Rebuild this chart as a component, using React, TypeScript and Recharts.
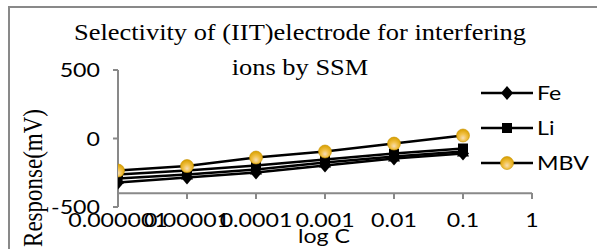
import React from 'react';
import { LineChart, Line, XAxis, YAxis, ReferenceLine, Legend } from 'recharts';

const concentrations = [0.000001, 0.00001, 0.0001, 0.001, 0.01, 0.1];
const feValues = [-321, -285, -248, -197, -146, -110];
const ion4Values = [-292, -263, -226, -175, -131, -95];
const liValues = [-263, -234, -197, -153, -110, -73];
const mbvValues = [-234, -201, -139, -95, -37, 22];

const xTicks = [0.000001, 0.00001, 0.0001, 0.001, 0.01, 0.1, 1];
const xTickLabels = ['0.000001', '0.00001', '0.0001', '0.001', '0.01', '0.1', '1'];
const yTicks = [-500, 0, 500];
const axisCross = -400;

const titleLines = ['Selectivity of (IIT)electrode for interfering', 'ions by SSM'];
const xTitle = 'log C';
const yTitle = 'Response(mV)';

const data = concentrations.map((c, i) => ({
  conc: c,
  Fe: feValues[i],
  ion4: ion4Values[i],
  Li: liValues[i],
  MBV: mbvValues[i],
}));

const AXIS = '#898989';
const SANS = 'Lato, "Open Sans", sans-serif';
const SERIF = '"Liberation Serif", "Times New Roman", serif';
const SX = 1.22;
const FS = 19;

const Diamond = ({ cx, cy }: any) => (
  <polygon points={`${cx},${cy - 7} ${cx + 6},${cy} ${cx},${cy + 7} ${cx - 6},${cy}`} fill="#000" />
);
const Square = ({ cx, cy }: any) => <rect x={cx - 5} y={cy - 5} width={10} height={10} fill="#000" />;
const Triangle = ({ cx, cy }: any) => (
  <polygon points={`${cx},${cy - 7} ${cx + 6},${cy + 5} ${cx - 6},${cy + 5}`} fill="#000" />
);
const GoldCircle = ({ cx, cy }: any) => (
  <circle cx={cx} cy={cy} r={6.5} fill="url(#mbvGrad)" stroke="#C89200" strokeWidth={0.6} />
);

const shapeFor: Record<string, any> = { Fe: Diamond, Li: Square, ion4: Triangle, MBV: GoldCircle };

const makeDot = (key: string) => (p: any) => {
  const S = shapeFor[key];
  if (p.cx == null || p.cy == null) return <g key={`${key}-${p.index}`} />;
  return (
    <g key={`${key}-${p.index}`}>
      <S cx={p.cx} cy={p.cy} />
    </g>
  );
};

const XTick = (props: any) => {
  const { x, y, payload } = props;
  const idx = xTicks.indexOf(payload.value);
  const label = idx >= 0 ? xTickLabels[idx] : String(payload.value);
  return (
    <g>
      <line x1={x} x2={x} y1={y - 14} y2={y - 8} stroke={AXIS} strokeWidth={2} />
      <text transform={`translate(${x},${y + 20}) scale(${SX},1)`} textAnchor="middle" fontFamily={SANS} fontSize={FS} fill="#000">
        {label}
      </text>
    </g>
  );
};

const YTick = (props: any) => {
  const { x, y, payload } = props;
  return (
    <text transform={`translate(${x},${y + 7}) scale(${SX},1)`} textAnchor="end" fontFamily={SANS} fontSize={FS} fill="#000">
      {String(payload.value)}
    </text>
  );
};

const renderLegend = (props: any) => {
  const payload = (props.payload || []).filter((e: any) => e.type !== 'none');
  const order = ['Fe', 'Li', 'MBV'];
  const items = order.filter((n) => payload.some((e: any) => e.value === n));
  return (
    <svg width={119} height={100} style={{ overflow: 'visible' }}>
      {items.map((name, i) => {
        const cy = 17 + i * 35;
        const S = shapeFor[name];
        return (
          <g key={name}>
            <line x1={3} x2={55} y1={cy} y2={cy} stroke="#000" strokeWidth={2.5} />
            <S cx={29} cy={cy} />
            <text transform={`translate(59,${cy + 7}) scale(${SX},1)`} fontFamily={SANS} fontSize={FS} fill="#000">
              {name}
            </text>
          </g>
        );
      })}
    </svg>
  );
};

export default function App() {
  return (
    <div style={{ position: 'absolute', left: 0, top: 0, width: 597, height: 249, overflow: 'hidden', background: '#fff' }}>
      <svg width={0} height={0} style={{ position: 'absolute' }}>
        <defs>
          <radialGradient id="mbvGrad" cx="50%" cy="62%" r="60%" fx="50%" fy="70%">
            <stop offset="0%" stopColor="#F6DDB8" />
            <stop offset="45%" stopColor="#F2C24A" />
            <stop offset="100%" stopColor="#D9A000" />
          </radialGradient>
        </defs>
      </svg>
      <div
        style={{
          position: 'absolute',
          left: 8,
          top: 6,
          width: 600,
          height: 260,
          borderLeft: `2px solid ${AXIS}`,
          borderTop: `2px solid ${AXIS}`,
          boxSizing: 'border-box',
        }}
      />
      <div style={{ position: 'absolute', left: 0, top: 0 }}>
        <LineChart width={597} height={249} data={data} margin={{ top: 70, right: 65, bottom: 41, left: 0 }}>
          <XAxis
            dataKey="conc"
            type="number"
            scale="log"
            domain={[0.000001, 1]}
            ticks={xTicks}
            allowDataOverflow
            axisLine={false}
            tickLine={false}
            tickSize={0}
            tickMargin={0}
            height={1}
            interval={0}
            tick={<XTick />}
          />
          <YAxis
            type="number"
            domain={[-500, 500]}
            ticks={yTicks}
            width={118}
            tickSize={5}
            tickMargin={13}
            axisLine={{ stroke: AXIS, strokeWidth: 2 }}
            tickLine={{ stroke: AXIS, strokeWidth: 2 }}
            tick={<YTick />}
            interval={0}
          />
          <ReferenceLine y={axisCross} stroke={AXIS} strokeWidth={2} />
          <Legend
            layout="vertical"
            align="center"
            verticalAlign="middle"
            wrapperStyle={{ left: 478, top: 76, width: 119, height: 100 }}
            content={renderLegend}
          />
          <Line dataKey="Fe" name="Fe" stroke="#000" strokeWidth={2.5} dot={makeDot('Fe')} isAnimationActive={false} />
          <Line dataKey="ion4" name="ion4" legendType="none" stroke="#000" strokeWidth={2.5} dot={makeDot('ion4')} isAnimationActive={false} />
          <Line dataKey="Li" name="Li" stroke="#000" strokeWidth={2.5} dot={makeDot('Li')} isAnimationActive={false} />
          <Line dataKey="MBV" name="MBV" stroke="#000" strokeWidth={2.5} dot={makeDot('MBV')} isAnimationActive={false} />
        </LineChart>
      </div>
      <svg width={597} height={249} style={{ position: 'absolute', left: 0, top: 0, pointerEvents: 'none' }}>
        <text transform="translate(300,40) scale(1.15,1)" textAnchor="middle" fontFamily={SERIF} fontSize={23} fill="#000">
          {titleLines[0]}
        </text>
        <text transform="translate(300,75) scale(1.15,1)" textAnchor="middle" fontFamily={SERIF} fontSize={23} fill="#000">
          {titleLines[1]}
        </text>
        <text transform="translate(42,178) scale(1.2,1) rotate(-90)" textAnchor="middle" fontFamily={SERIF} fontSize={23} fill="#000">
          {yTitle}
        </text>
        <text transform={`translate(324,243) scale(${SX},1)`} textAnchor="middle" fontFamily={SANS} fontSize={FS} fill="#000">
          {xTitle}
        </text>
      </svg>
    </div>
  );
}
